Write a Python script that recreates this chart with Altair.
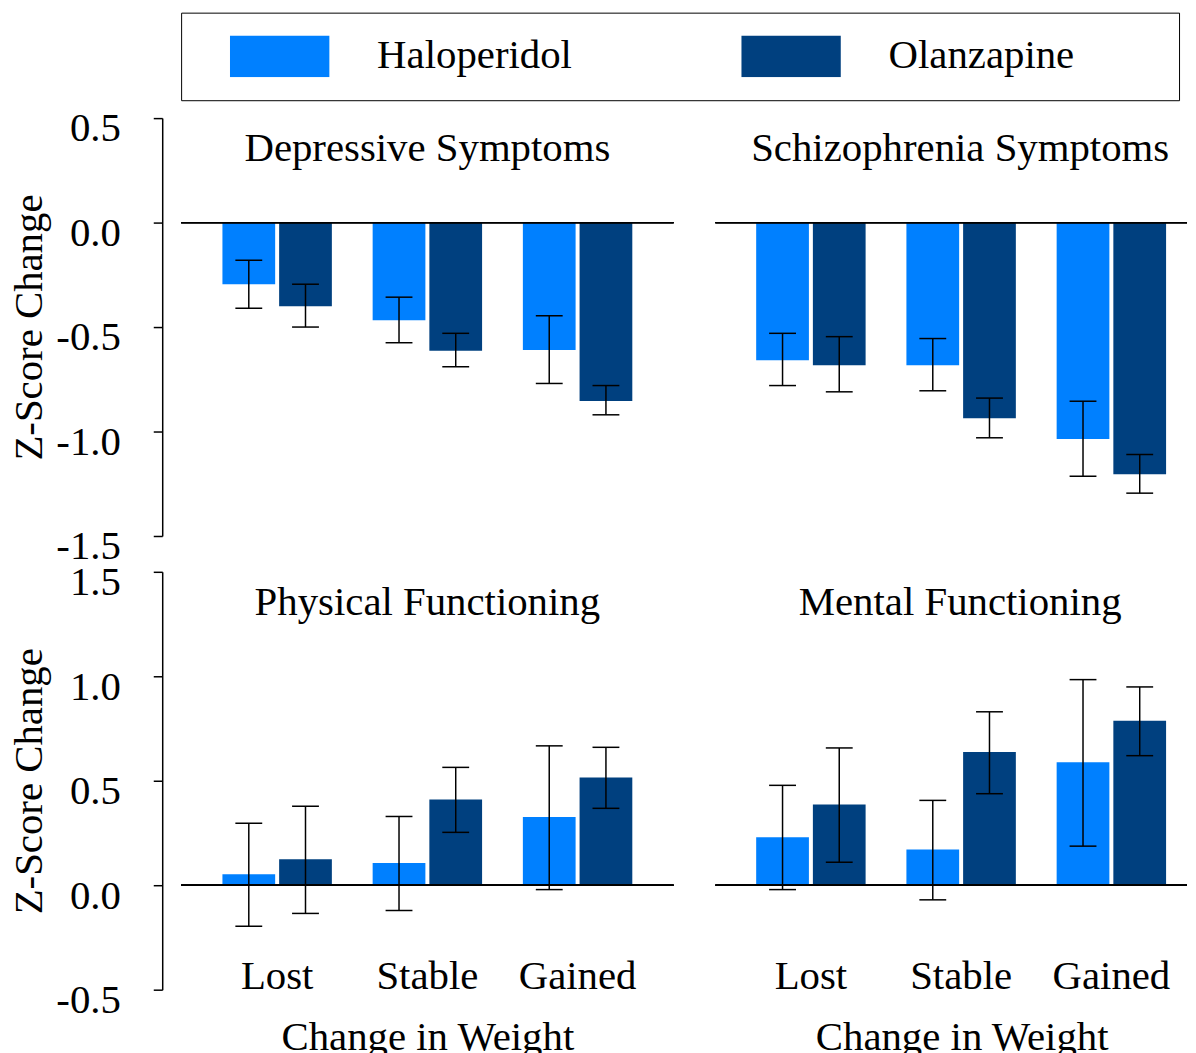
import altair as alt
import pandas as pd

FONT = "Liberation Serif"
FS = 41

weights = ["Lost", "Stable", "Gained"]
drugs = ["Haloperidol", "Olanzapine"]
drug_colors = ["#0080FF", "#00407F"]

# order: Lost-H, Lost-O, Stable-H, Stable-O, Gained-H, Gained-O
dep_mean = [-0.295, -0.40, -0.467, -0.614, -0.61, -0.854]
dep_lo = [-0.41, -0.50, -0.575, -0.69, -0.77, -0.92]
dep_hi = [-0.18, -0.295, -0.357, -0.53, -0.446, -0.78]

sch_mean = [-0.659, -0.683, -0.683, -0.936, -1.036, -1.205]
sch_lo = [-0.78, -0.81, -0.805, -1.03, -1.214, -1.295]
sch_hi = [-0.53, -0.546, -0.555, -0.84, -0.855, -1.11]

phy_mean = [0.053, 0.124, 0.106, 0.41, 0.327, 0.516]
phy_lo = [-0.196, -0.135, -0.121, 0.253, -0.021, 0.368]
phy_hi = [0.297, 0.378, 0.329, 0.564, 0.667, 0.66]

men_mean = [0.23, 0.386, 0.171, 0.637, 0.589, 0.787]
men_lo = [-0.021, 0.11, -0.07, 0.438, 0.187, 0.62]
men_hi = [0.478, 0.657, 0.406, 0.83, 0.984, 0.949]

top_ticks = [-1.5, -1.0, -0.5, 0.0, 0.5]
bottom_ticks = [-0.5, 0.0, 0.5, 1.0, 1.5]

NBSP = "\u00a0"
ZWSP = "\u200b"

legend = alt.Legend(
    orient="none", legendX=0, legendY=-106, direction="horizontal",
    title=NBSP, titleOrient="left", titleFontSize=10, titlePadding=26,
    symbolType="M-1,-0.42H1V0.42H-1Z", symbolSize=10000, symbolStrokeWidth=0,
    symbolOpacity=1, clipHeight=42,
    labelFontSize=FS, labelFont=FONT, labelColor="black", labelOffset=48,
    labelLimit=800, columnPadding=170, padding=23,
    strokeColor="black", fillColor="white",
    labelExpr="datum.label == 'Olanzapine' ? datum.label + '" + NBSP * 8 + ZWSP + "' : datum.label",
)

LABEL_EXPR = "(datum.value < 0 ? '-' : '') + format(abs(datum.value), '.1f')"


def panel(name, mean, lo, hi, ydomain, yticks, left, bottom):
    width = 495 if left else 474
    df = pd.DataFrame({
        "weight": [w for w in weights for _ in drugs],
        "drug": drugs * 3,
        "mean": mean, "lo": lo, "hi": hi,
    })
    if left:
        xscale = alt.Scale(domain=weights, paddingInner=0.2715, paddingOuter=0.275, align=0.5)
    else:
        xscale = alt.Scale(domain=weights, paddingInner=0.2715, paddingOuter=0.2053, align=0.661)
    if bottom:
        xaxis = alt.Axis(domain=False, ticks=False, labelAngle=0, labelFontSize=FS,
                         labelBaseline="alphabetic", labelPadding=-1,
                         title="Change in Weight", titleFontSize=FS, titleFontWeight="normal",
                         titlePadding=21, titleX=247.5)
    else:
        xaxis = None
    x = alt.X("weight:N", scale=xscale, axis=xaxis)
    xo = alt.XOffset("drug:N", scale=alt.Scale(domain=drugs, paddingInner=0.07, paddingOuter=0))
    yscale = alt.Scale(domain=ydomain, nice=False, zero=False)
    if left:
        yaxis = alt.Axis(values=yticks, offset=19, tickSize=9, labelPadding=33,
                         labelFontSize=FS, labelOffset=11, labelExpr=LABEL_EXPR,
                         title="Z-Score Change", titleFontSize=FS, titleFontWeight="normal",
                         titlePadding=5, domainWidth=1.5, tickWidth=1.5, grid=False)
    else:
        yaxis = None

    def y(field):
        return alt.Y(field, scale=yscale, axis=yaxis)

    base = alt.Chart(df)
    bars = base.mark_bar().encode(
        x=x, xOffset=xo, y=y("mean:Q"), y2=alt.Y2Datum(0),
        color=alt.Color("drug:N", scale=alt.Scale(domain=drugs, range=drug_colors), legend=legend),
    )
    zero = base.mark_rule(color="black", strokeWidth=1.3).encode(y=alt.YDatum(0, scale=yscale, axis=yaxis))
    err = base.mark_rule(color="black", strokeWidth=1.5).encode(x=x, xOffset=xo, y=y("lo:Q"), y2="hi:Q")
    cap_lo = base.mark_tick(color="black", size=27, thickness=1.5, opacity=1).encode(x=x, xOffset=xo, y=y("lo:Q"))
    cap_hi = base.mark_tick(color="black", size=27, thickness=1.5, opacity=1).encode(x=x, xOffset=xo, y=y("hi:Q"))
    title = alt.Chart(pd.DataFrame({"t": [name]})).mark_text(
        font=FONT, fontSize=FS, color="black", baseline="alphabetic", align="center"
    ).encode(text="t:N", x=alt.value(247.5 if left else 246), y=alt.value(43))
    return alt.layer(bars, zero, err, cap_lo, cap_hi, title).properties(width=width, height=420)


tl = panel("Depressive Symptoms", dep_mean, dep_lo, dep_hi, [-1.5, 0.5], top_ticks, True, False)
tr = panel("Schizophrenia Symptoms", sch_mean, sch_lo, sch_hi, [-1.5, 0.5], top_ticks, False, False)
bl = panel("Physical Functioning", phy_mean, phy_lo, phy_hi, [-0.5, 1.5], bottom_ticks, True, True)
br = panel("Mental Functioning", men_mean, men_lo, men_hi, [-0.5, 1.5], bottom_ticks, False, True)

chart = alt.concat(
    tl, tr, bl, br, columns=2,
    spacing={"row": 36, "column": 42}, bounds="flush",
).properties(
    padding={"left": 1, "top": 1, "right": 0, "bottom": 0}
).configure(font=FONT).configure_view(stroke=None).configure_axis(
    labelColor="black", titleColor="black", domainColor="black", tickColor="black",
    labelFont=FONT, titleFont=FONT, grid=False,
)

chart.save("out.html", embed_options={"renderer": "svg", "actions": False})
